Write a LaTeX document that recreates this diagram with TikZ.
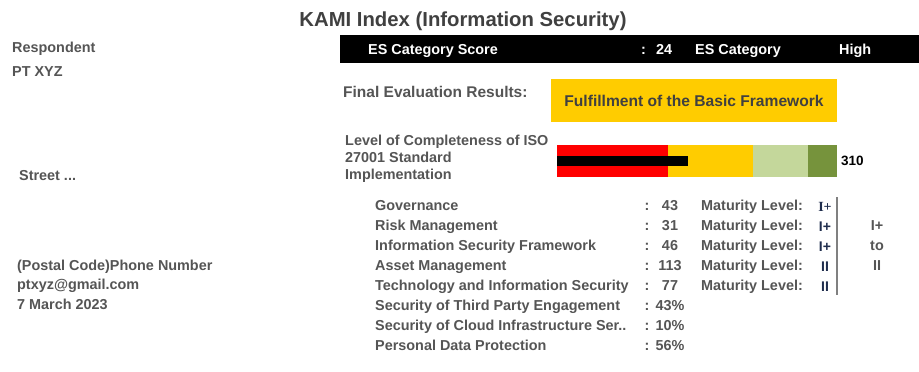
\documentclass[tikz,border=0pt]{standalone}
\usepackage{fontspec}
\setmainfont{Liberation Sans}
\newfontfamily\serifroman{Liberation Serif}
\definecolor{tgray}{HTML}{555555}
\definecolor{ttitle}{HTML}{404040}
\definecolor{barred}{HTML}{FF0000}
\definecolor{baryel}{HTML}{FFCC00}
\definecolor{barlg}{HTML}{C4D79B}
\definecolor{bardg}{HTML}{76933C}
\definecolor{navy}{HTML}{1F2D4D}
\begin{document}
\begin{tikzpicture}[x=1pt,y=-1pt,
  txt/.style={anchor=base west, inner sep=0pt, font=\fontsize{14.4}{16}\selectfont\bfseries, text=tgray},
  wtxt/.style={anchor=base west, inner sep=0pt, font=\fontsize{14.4}{16}\selectfont\bfseries, text=white},
  val/.style={anchor=base, inner sep=0pt, font=\fontsize{14.4}{16}\selectfont\bfseries, text=tgray},
  roman/.style={anchor=base, inner sep=0pt, font=\fontsize{14}{16}\selectfont\bfseries, text=navy}]
\useasboundingbox (0,0) rectangle (919,372);
\fill[white] (0,0) rectangle (919,372);
% title
\node[anchor=base, inner sep=0pt, font=\fontsize{20.3}{22}\selectfont\bfseries, text=ttitle] (title) at (463,26) {KAMI Index (Information Security)};
% left column
\node[txt] (resp) at (12,52.2) {Respondent};
\node[txt] (pt) at (12,76.2) {PT XYZ};
\node[txt] (street) at (19,180.2) {Street ...};
\node[txt] (postal) at (17,270.2) {(Postal Code)Phone Number};
\node[txt] (mail) at (17,289.2) {ptxyz@gmail.com};
\node[txt] (date) at (17,309.2) {7 March 2023};
% black bar
\fill[black] (340,35) rectangle (919,63);
\node[wtxt] (escs) at (368,54.5) {ES Category Score};
\node[wtxt] (escol) at (641,54.5) {:};
\node[wtxt] (esval) at (656,54.5) {24};
\node[wtxt] (escat) at (695,54.5) {ES Category};
\node[wtxt] (eshigh) at (839,54.5) {High};
% final evaluation
\node[txt, font=\fontsize{15.5}{17}\selectfont\bfseries] (final) at (343,97.5) {Final Evaluation Results:};
\fill[baryel] (551,79) rectangle (837,122);
\node[anchor=base, inner sep=0pt, font=\fontsize{15.6}{17}\selectfont\bfseries, text=ttitle] (fulfil) at (694,106.5) {Fulfillment of the Basic Framework};
% completeness
\node[txt] (lc1) at (345,145.2) {Level of Completeness of ISO};
\node[txt] (lc2) at (345,162.2) {27001 Standard};
\node[txt] (lc3) at (345,179.2) {Implementation};
\fill[barred] (557,145) rectangle (668,177);
\fill[baryel] (668,145) rectangle (753,177);
\fill[barlg] (753,145) rectangle (808,177);
\fill[bardg] (808,145) rectangle (837,177);
\fill[black] (557,156) rectangle (688,166);
\node[anchor=base west, inner sep=0pt, font=\fontsize{13.5}{15}\selectfont\bfseries, text=black] (v310) at (841,165) {310};
% list
\foreach \lab/\v/\yy [count=\i] in {Governance/43/205, Risk Management/31/225, Information Security Framework/46/245, Asset Management/113/265, Technology and Information Security/77/285, Security of Third Party Engagement/43\%/305, Security of Cloud Infrastructure Ser../10\%/325, Personal Data Protection/56\%/345}{
  \node[txt] (lab\i) at (375,\yy+5.2) {\lab};
  \node[val] (col\i) at (647,\yy+5.2) {:};
  \node[val] (val\i) at (670,\yy+5.2) {\v};
}
\foreach \yy [count=\i] in {205,225,245,265,285}{
  \node[txt] (ml\i) at (701,\yy+5.2) {Maturity Level:};
}
\node[roman, font=\fontsize{14}{16}\selectfont\bfseries\serifroman] (r1) at (825,211) {I+};
\node[roman] (r2) at (825,231) {I+};
\node[roman] (r3) at (825,251) {I+};
\node[roman] (r4) at (825,271) {II};
\node[roman] (r5) at (825,291) {II};
\draw[line width=1.5pt, draw=gray] (837,197) -- (837,295);
\node[val] (sum1) at (877,230.2) {I+};
\node[val] (sum2) at (877,250.2) {to};
\node[val] (sum3) at (877,270.2) {II};
\end{tikzpicture}
\end{document}
